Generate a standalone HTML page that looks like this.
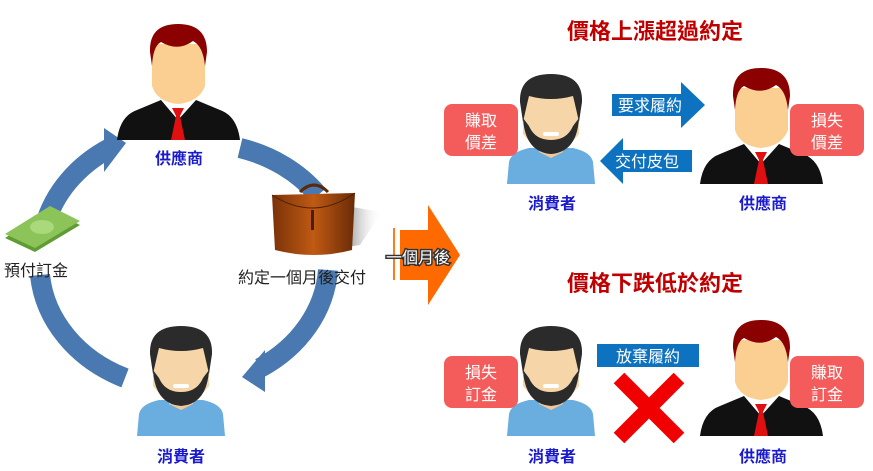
<!DOCTYPE html>
<html><head><meta charset="utf-8"><style>
html,body{margin:0;padding:0;background:#fff;width:873px;height:471px;overflow:hidden}
svg{display:block}
text{font-family:"Liberation Sans","Noto Sans CJK TC",sans-serif}
</style></head><body>
<svg width="873" height="471" viewBox="0 0 873 471" xmlns="http://www.w3.org/2000/svg">
<defs>
<linearGradient id="bag" x1="0" y1="0" x2="1" y2="0"><stop offset="0" stop-color="#7a3208"/><stop offset="0.5" stop-color="#c05a14"/><stop offset="1" stop-color="#6a2a06"/></linearGradient>
<linearGradient id="shd" x1="0" y1="0" x2="1" y2="0"><stop offset="0" stop-color="#444"/><stop offset="1" stop-color="#fff" stop-opacity="0"/></linearGradient>
<g id="sup">
  <path d="M0,116 Q3,92 20,86 L44,76 L79,76 L103,86 Q120,92 123,116 Z" fill="#111"/>
  <path d="M44,76 L61,96 L79,76 L75,68 L48,68 Z" fill="#fff"/>
  <path d="M55,84 L67,84 L63,92 L68,116 L54,116 L59,92 Z" fill="#e01010"/>
  <path d="M35,20 L88,20 L88,62 Q82,78 61,80 Q40,78 35,62 Z" fill="#fbcf92"/>
  <path d="M33,28 Q32,0 61,0 Q90,0 90,28 L88,42 Q86,22 76,17 Q61,28 44,18 Q36,22 35,42 Z" fill="#8b0000"/>
</g>
<g id="con">
  <path d="M0,110 L2,88 Q4,78 22,74 L66,74 Q84,78 86,88 L88,110 Z" fill="#6aaee0"/>
  <path d="M32,66 L56,66 L56,78 L44,84 L32,78 Z" fill="#f2c79a"/>
  <path d="M16,22 Q16,2 44,2 Q72,2 72,22 L72,60 Q60,76 44,76 Q28,76 16,60 Z" fill="#f6d6a8"/>
  <path d="M13,28 Q12,0 44,0 Q76,0 75,28 L72,48 Q68,30 66,22 Q44,28 22,22 Q20,30 16,48 Z" fill="#2b2b2b"/>
  <path d="M16,44 Q18,78 44,80 Q70,78 72,44 L66,52 Q60,66 44,66 Q28,66 22,52 Z" fill="#2b2b2b"/>
  <rect x="36" y="58" width="16" height="4" rx="2" fill="#fff"/>
</g>
</defs>

<g fill="none" stroke="#4a78b0" stroke-width="20">
  <path d="M45,225 A145,125 0 0 1 110,148"/>
  <path d="M240,148 A145,125 0 0 1 318,195"/>
  <path d="M328,270 A145,125 0 0 1 260,368"/>
  <path d="M40,275 A145,125 0 0 0 125,378"/>
</g>
<polygon points="104,128 126,143 104,172" fill="#4a78b0"/>
<polygon points="242,377 265,350 265,392" fill="#4a78b0"/>

<use href="#sup" x="117" y="24"/>
<text x="179" y="164" font-size="16" font-weight="bold" fill="#1a1acc" text-anchor="middle">供應商</text>
<use href="#con" x="137" y="326"/>
<text x="181" y="462" font-size="16" font-weight="bold" fill="#1a1acc" text-anchor="middle">消費者</text>

<polygon points="5,238 50,210 80,225 35,252" fill="#5f9c34"/>
<polygon points="5,234 50,206 80,221 35,248" fill="#8cc45a"/>
<ellipse cx="42" cy="227" rx="12" ry="7" fill="#a9d97a"/>
<text x="4" y="276" font-size="16" fill="#222">預付訂金</text>

<polygon points="340,205 382,212 360,245 340,248" fill="url(#shd)" opacity="0.8"/>
<path d="M300,192 Q314,178 328,192" stroke="#5a2a08" stroke-width="3" fill="none"/>
<path d="M272,195 L355,193 L352,250 Q314,260 275,250 Z" fill="url(#bag)"/>
<path d="M272,195 Q314,222 355,193" stroke="#4a1e04" stroke-width="1" fill="none"/>
<rect x="311" y="210" width="3" height="20" fill="#4a1e04"/>
<text x="238" y="283" font-size="16" fill="#222">約定一個月後交付</text>

<polygon points="400,230 428,230 428,205 460,255 428,305 428,280 400,280" fill="#ff6a00"/>
<line x1="394" y1="228" x2="394" y2="280" stroke="#ff7a20" stroke-width="2"/>
<text x="386" y="263" font-size="16" fill="#fff" stroke="#333" stroke-width="3" paint-order="stroke">一個月後</text>

<text x="655" y="39" font-size="22" font-weight="bold" fill="#c00000" text-anchor="middle">價格上漲超過約定</text>
<text x="655" y="291" font-size="22" font-weight="bold" fill="#c00000" text-anchor="middle">價格下跌低於約定</text>

<use href="#con" x="507" y="74"/>
<use href="#sup" x="700" y="68"/>
<text x="552" y="209" font-size="16" font-weight="bold" fill="#1a1acc" text-anchor="middle">消費者</text>
<text x="763" y="209" font-size="16" font-weight="bold" fill="#1a1acc" text-anchor="middle">供應商</text>
<rect x="444" y="104" width="74" height="52" rx="8" fill="#f45c5c"/>
<text x="481" y="126" font-size="16" fill="#fff" text-anchor="middle">賺取</text>
<text x="481" y="148" font-size="16" fill="#fff" text-anchor="middle">價差</text>
<rect x="790" y="104" width="74" height="52" rx="8" fill="#f45c5c"/>
<text x="827" y="126" font-size="16" fill="#fff" text-anchor="middle">損失</text>
<text x="827" y="148" font-size="16" fill="#fff" text-anchor="middle">價差</text>
<polygon points="612,94 681,94 681,82 705,105 681,128 681,116 612,116" fill="#0d72bf"/>
<text x="618" y="111" font-size="16" fill="#fff">要求履約</text>
<polygon points="692,150 623,150 623,138 600,161 623,184 623,172 692,172" fill="#0d72bf"/>
<text x="615" y="167" font-size="16" fill="#fff">交付皮包</text>

<use href="#con" x="507" y="326"/>
<use href="#sup" x="700" y="320"/>
<text x="552" y="462" font-size="16" font-weight="bold" fill="#1a1acc" text-anchor="middle">消費者</text>
<text x="763" y="462" font-size="16" font-weight="bold" fill="#1a1acc" text-anchor="middle">供應商</text>
<rect x="444" y="356" width="74" height="52" rx="8" fill="#f45c5c"/>
<text x="481" y="378" font-size="16" fill="#fff" text-anchor="middle">損失</text>
<text x="481" y="400" font-size="16" fill="#fff" text-anchor="middle">訂金</text>
<rect x="790" y="356" width="74" height="52" rx="8" fill="#f45c5c"/>
<text x="827" y="378" font-size="16" fill="#fff" text-anchor="middle">賺取</text>
<text x="827" y="400" font-size="16" fill="#fff" text-anchor="middle">訂金</text>
<rect x="597" y="344" width="102" height="23" fill="#0d72bf"/>
<text x="648" y="362" font-size="16" fill="#fff" text-anchor="middle">放棄履約</text>
<g stroke="#f00000" stroke-width="15">
  <line x1="619" y1="378" x2="679" y2="438"/>
  <line x1="679" y1="378" x2="619" y2="438"/>
</g>
</svg>
</body></html>
